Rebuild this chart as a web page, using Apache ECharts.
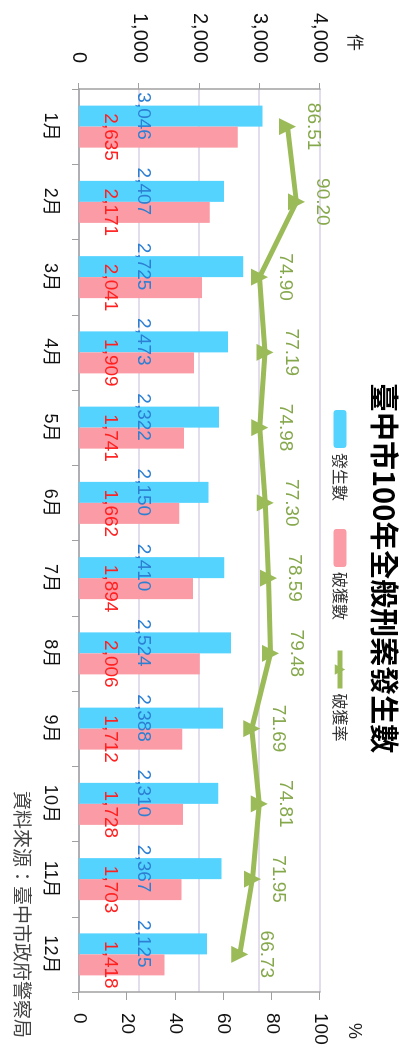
<!DOCTYPE html>
<html>
<head>
<meta charset="utf-8">
<script src="https://cdn.jsdelivr.net/npm/echarts/dist/echarts.min.js"></script>
<style>
html, body { margin: 0; padding: 0; background: #ffffff; overflow: hidden; width: 408px; height: 1048px; }
#chart { position: absolute; left: 0; top: 0; width: 1048px; height: 408px; transform-origin: 0 0; transform: translate(408px, 0) rotate(90deg); background: #ffffff; }
</style>
</head>
<body>
<div id="chart"></div>
<script>
const categories = ['1月', '2月', '3月', '4月', '5月', '6月', '7月', '8月', '9月', '10月', '11月', '12月'];
const occurred = [3046, 2407, 2725, 2473, 2322, 2150, 2410, 2524, 2388, 2310, 2367, 2125];
const solved = [2635, 2171, 2041, 1909, 1741, 1662, 1894, 2006, 1712, 1728, 1703, 1418];
const solveRate = [86.51, 90.20, 74.90, 77.19, 74.98, 77.30, 78.59, 79.48, 71.69, 74.81, 71.95, 66.73];
const countTicks = { min: 0, max: 4000, interval: 1000 };
const rateTicks = { min: 0, max: 100, interval: 20 };
const seriesNames = ['發生數', '破獲數', '破獲率'];
const titleText = '臺中市100年全般刑案發生數';
const sourceText = '資料來源：臺中市政府警察局';

const FONT = '"Liberation Sans", "Noto Sans CJK TC", sans-serif';
const CJK = '"Noto Sans CJK TC", sans-serif';
function commas(v) { return String(v).replace(/\B(?=(\d{3})+(?!\d))/g, ','); }

const chart = echarts.init(document.getElementById('chart'), null, { renderer: 'canvas' });
chart.setOption({
  animation: false,
  backgroundColor: '#ffffff',
  textStyle: { fontFamily: FONT },
  title: {
    text: titleText,
    left: 378, top: 4,
    textStyle: { fontFamily: CJK, fontSize: 29, fontWeight: 'bold', color: '#000000' }
  },
  legend: {
    left: 405, top: 55,
    itemWidth: 38, itemHeight: 13, itemGap: 28,
    textStyle: { fontFamily: CJK, fontSize: 16, color: '#333333' },
    data: [
      seriesNames[0],
      seriesNames[1],
      { name: seriesNames[2], itemStyle: { color: '#9bbb59' }, lineStyle: { color: '#9bbb59', width: 5 } }
    ]
  },
  graphic: [
    { type: 'text', left: 34, top: 44, style: { text: '件', fontFamily: CJK, fontSize: 17, fill: '#222222' } },
    { type: 'text', left: 1023, top: 45, style: { text: '%', fontFamily: FONT, fontSize: 18, fill: '#222222' } },
    { type: 'text', right: 10, top: 376, style: { text: sourceText, fontFamily: CJK, fontSize: 19, fill: '#444444' } }
  ],
  grid: { left: 89, right: 56, top: 88, bottom: 79 },
  xAxis: {
    type: 'category',
    data: categories,
    boundaryGap: true,
    axisLine: { show: true, lineStyle: { color: '#a0a0a0', width: 1.5 } },
    axisTick: { show: true, length: 7, alignWithLabel: false, lineStyle: { color: '#a0a0a0' } },
    axisLabel: { margin: 20, fontSize: 18, color: '#111111', fontFamily: FONT }
  },
  yAxis: [
    {
      type: 'value', min: countTicks.min, max: countTicks.max, interval: countTicks.interval,
      axisLine: { show: true, lineStyle: { color: '#a0a0a0', width: 1.5 } },
      axisTick: { show: true, length: 6, lineStyle: { color: '#a0a0a0' } },
      axisLabel: { margin: 26, fontSize: 20, color: '#111111', fontFamily: FONT, formatter: v => commas(v) },
      splitLine: { show: true, lineStyle: { color: '#d9d1e6', width: 1.5 } }
    },
    {
      type: 'value', min: rateTicks.min, max: rateTicks.max, interval: rateTicks.interval,
      position: 'right',
      axisLine: { show: true, lineStyle: { color: '#a0a0a0', width: 1.5 } },
      axisTick: { show: true, length: 8, lineStyle: { color: '#a0a0a0' } },
      axisLabel: { margin: 21, fontSize: 19, color: '#111111', fontFamily: FONT },
      splitLine: { show: false }
    }
  ],
  series: [
    {
      name: seriesNames[0], type: 'bar', data: occurred, barWidth: 21, barGap: '0%',
      itemStyle: { color: '#55d3ff' },
      label: { show: true, position: 'insideBottom', offset: [0, -50], fontSize: 19, color: '#2c7fd3', fontFamily: FONT, formatter: p => commas(p.value) }
    },
    {
      name: seriesNames[1], type: 'bar', data: solved, barWidth: 21, barGap: '0%',
      itemStyle: { color: '#fa9ba5' },
      label: { show: true, position: 'insideBottom', offset: [0, -17], fontSize: 19, color: '#ff2020', fontFamily: FONT, formatter: p => commas(p.value) }
    },
    {
      name: seriesNames[2], type: 'line', yAxisIndex: 1, data: solveRate,
      symbol: 'triangle', symbolSize: 17, z: 5,
      lineStyle: { color: '#9bbb59', width: 5 },
      itemStyle: { color: '#9bbb59' },
      label: { show: true, position: 'top', distance: 8, fontSize: 19, color: '#86a84c', fontFamily: FONT, formatter: p => p.value.toFixed(2) }
    }
  ]
});
</script>
</body>
</html>
